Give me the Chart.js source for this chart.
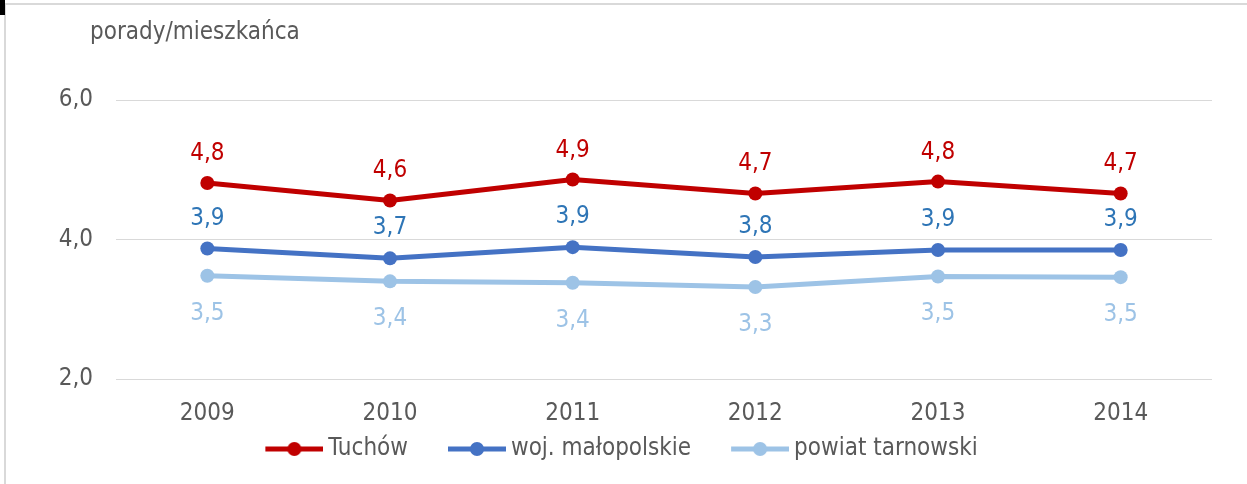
<!DOCTYPE html>
<html>
<head>
<meta charset="utf-8">
<script src="https://cdn.jsdelivr.net/npm/chart.js@4.4.1/dist/chart.umd.min.js"></script>
<style>
  html, body { margin: 0; padding: 0; background: #fff; }
  #wrap { position: relative; width: 1247px; height: 484px; overflow: hidden; }
  #frame { position: absolute; left: 4px; top: 3px; width: 1260px; height: 500px;
           border-top: 2px solid #d9d9d9; border-left: 2px solid #d9d9d9; }
  #mark { position: absolute; left: 0; top: 0; width: 5px; height: 15px; background: #000; }
  canvas { position: absolute; left: 0; top: 0; }
</style>
</head>
<body>
<div id="wrap">
  <div id="frame"></div>
  <div id="mark"></div>
  <canvas id="chart" width="1247" height="484"></canvas>
</div>
<script>
// dane
const years = ['2009', '2010', '2011', '2012', '2013', '2014'];
const tuchow = [4.81, 4.56, 4.86, 4.66, 4.83, 4.66];
const wojMalopolskie = [3.87, 3.73, 3.89, 3.75, 3.85, 3.85];
const powiatTarnowski = [3.48, 3.40, 3.38, 3.32, 3.47, 3.46];
const yTicks = [2, 4, 6];
const unitLabel = 'porady/mieszkańca';

const FONT = "'DejaVu Sans Condensed', 'DejaVu Sans', sans-serif";
const GREY = '#595959';

// liczba z przecinkiem
function fmt(v) {
  return v.toFixed(1).replace('.', ',');
}

// znacznik legendy: linia z kropką
function legendMarker(color) {
  const c = document.createElement('canvas');
  c.width = 95;
  c.height = 18;
  const g = c.getContext('2d');
  g.strokeStyle = color;
  g.lineWidth = 5;
  g.beginPath();
  g.moveTo(37, 9);
  g.lineTo(95, 9);
  g.stroke();
  g.fillStyle = color;
  g.beginPath();
  g.arc(66, 9, 7, 0, Math.PI * 2);
  g.fill();
  return c;
}

// etykiety danych
const dataLabels = {
  id: 'dataLabels',
  afterDatasetsDraw(chart) {
    const ctx = chart.ctx;
    ctx.save();
    ctx.font = '24px ' + FONT;
    ctx.textAlign = 'center';
    ctx.textBaseline = 'alphabetic';
    chart.data.datasets.forEach((ds, i) => {
      const meta = chart.getDatasetMeta(i);
      ctx.fillStyle = ds.labelColor;
      meta.data.forEach((pt, j) => {
        ctx.fillText(fmt(ds.data[j]), pt.x, pt.y + ds.labelOffset);
      });
    });
    ctx.restore();
  }
};

// jednostka nad osią
const unitTitle = {
  id: 'unitTitle',
  afterDraw(chart) {
    const ctx = chart.ctx;
    ctx.save();
    ctx.font = '24px ' + FONT;
    ctx.fillStyle = GREY;
    ctx.textAlign = 'left';
    ctx.textBaseline = 'alphabetic';
    ctx.fillText(unitLabel, 90, 39);
    ctx.restore();
  }
};

const PAD_LEFT = 1;

new Chart(document.getElementById('chart'), {
  type: 'line',
  data: {
    labels: years,
    datasets: [
      {
        label: 'Tuchów',
        data: tuchow,
        borderColor: '#C00000',
        backgroundColor: '#C00000',
        labelColor: '#C00000',
        labelOffset: -23,
        marker: legendMarker('#C00000')
      },
      {
        label: 'woj. małopolskie',
        data: wojMalopolskie,
        borderColor: '#4472C4',
        backgroundColor: '#4472C4',
        labelColor: '#2E75B6',
        labelOffset: -24,
        marker: legendMarker('#4472C4')
      },
      {
        label: 'powiat tarnowski',
        data: powiatTarnowski,
        borderColor: '#9DC3E6',
        backgroundColor: '#9DC3E6',
        labelColor: '#9DC3E6',
        labelOffset: 44,
        marker: legendMarker('#9DC3E6')
      }
    ]
  },
  options: {
    responsive: false,
    animation: false,
    layout: {
      padding: { left: PAD_LEFT, right: 35, top: 100, bottom: 13 }
    },
    elements: {
      line: { borderWidth: 5, tension: 0, borderJoinStyle: 'round' },
      point: { radius: 7, borderWidth: 0, hoverRadius: 7 }
    },
    plugins: {
      tooltip: { enabled: false },
      legend: {
        position: 'bottom',
        labels: {
          usePointStyle: true,
          pointStyleWidth: 81,
          boxHeight: 18,
          padding: 10,
          color: GREY,
          font: { family: FONT, size: 24 },
          generateLabels(chart) {
            const items = Chart.defaults.plugins.legend.labels.generateLabels(chart);
            items.forEach(item => {
              item.pointStyle = chart.data.datasets[item.datasetIndex].marker;
            });
            return items;
          }
        }
      }
    },
    scales: {
      x: {
        offset: true,
        afterFit(scale) {
          scale.height = 48;
        },
        grid: { display: false, drawTicks: false },
        border: { display: false },
        ticks: {
          color: GREY,
          padding: 20,
          font: { family: FONT, size: 24 }
        }
      },
      y: {
        min: 2,
        max: 6,
        afterBuildTicks(scale) {
          scale.ticks = yTicks.map(v => ({ value: v }));
        },
        afterFit(scale) {
          scale.width = 116 - PAD_LEFT;
        },
        grid: { color: '#D9D9D9', lineWidth: 1, drawTicks: false },
        border: { display: false },
        ticks: {
          color: GREY,
          padding: 23,
          font: { family: FONT, size: 24 },
          callback: v => fmt(v)
        }
      }
    }
  },
  plugins: [dataLabels, unitTitle]
});
</script>
</body>
</html>
